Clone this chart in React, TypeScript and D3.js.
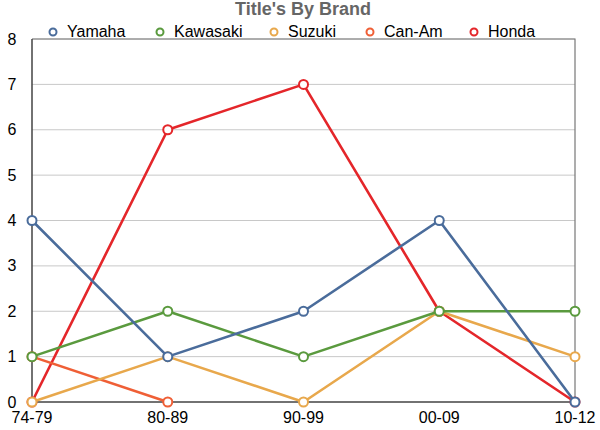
import React, { useRef, useEffect } from 'react';
import * as d3 from 'd3';

const categories = ['74-79', '80-89', '90-99', '00-09', '10-12'];
const seriesNames = ['Yamaha', 'Kawasaki', 'Suzuki', 'Can-Am', 'Honda'];
const yamaha = [4, 1, 2, 4, 0];
const kawasaki = [1, 2, 1, 2, 2];
const suzuki = [0, 1, 0, 2, 1];
const canAm = [1, 0];
const honda = [0, 6, 7, 2, 0];
const seriesColors = ['#4a6c9b', '#5a9a3e', '#e8a84c', '#ef5f36', '#e4262a'];
const yTicks = [0, 1, 2, 3, 4, 5, 6, 7, 8];
const legendX = [53, 160, 274, 370, 474];

const width = 600;
const height = 430;
const margin = { top: 39, right: 25, bottom: 28, left: 32 };

const App: React.FC = () => {
  const ref = useRef<SVGSVGElement | null>(null);

  useEffect(() => {
    if (!ref.current) return;
    const svg = d3.select<SVGSVGElement, unknown>(ref.current);
    svg.selectAll('*').remove();

    const font = '"Liberation Sans", Arial, sans-serif';
    const values = [yamaha, kawasaki, suzuki, canAm, honda];

    const x = d3
      .scalePoint<string>()
      .domain(categories)
      .range([margin.left, width - margin.right]);
    const y = d3
      .scaleLinear()
      .domain([0, 8])
      .range([height - margin.bottom, margin.top]);

    // gridlines
    svg
      .append('g')
      .selectAll('line')
      .data(yTicks.slice(1))
      .enter()
      .append('line')
      .attr('x1', margin.left)
      .attr('x2', width - margin.right)
      .attr('y1', d => y(d))
      .attr('y2', d => y(d))
      .attr('stroke', '#c8c8c8')
      .attr('stroke-width', 1);

    // frame
    const x0 = margin.left;
    const x1 = width - margin.right;
    const y0 = y(0);
    const y8 = y(8);
    svg
      .append('path')
      .attr('d', `M${x0},${y8}H${x1}V${y0}`)
      .attr('fill', 'none')
      .attr('stroke', '#777')
      .attr('stroke-width', 1.2);
    svg
      .append('path')
      .attr('d', `M${x0},${y8}V${y0}H${x1}`)
      .attr('fill', 'none')
      .attr('stroke', '#444')
      .attr('stroke-width', 1.5);

    // y labels
    svg
      .append('g')
      .selectAll('text')
      .data(yTicks)
      .enter()
      .append('text')
      .attr('x', 12)
      .attr('y', d => y(d))
      .attr('dy', '0.35em')
      .attr('text-anchor', 'middle')
      .style('font-family', font)
      .style('font-size', '16px')
      .style('fill', '#000')
      .text(d => d);

    // x labels
    svg
      .append('g')
      .selectAll('text')
      .data(categories)
      .enter()
      .append('text')
      .attr('x', d => x(d)!)
      .attr('y', y0 + 21)
      .attr('text-anchor', 'middle')
      .style('font-family', font)
      .style('font-size', '16px')
      .style('fill', '#000')
      .text(d => d);

    const line = d3
      .line<number>()
      .x((_, i) => x(categories[i])!)
      .y(d => y(d));

    // draw series in reverse order so Yamaha ends up on top
    for (let s = values.length - 1; s >= 0; s--) {
      const g = svg.append('g');
      g.append('path')
        .datum(values[s])
        .attr('d', line)
        .attr('fill', 'none')
        .attr('stroke', seriesColors[s])
        .attr('stroke-width', 2.6)
        .attr('stroke-linejoin', 'round');
      g.selectAll('circle')
        .data(values[s])
        .enter()
        .append('circle')
        .attr('cx', (_, i) => x(categories[i])!)
        .attr('cy', d => y(d))
        .attr('r', 4.5)
        .attr('fill', '#fff')
        .attr('stroke', seriesColors[s])
        .attr('stroke-width', 2);
    }

    // title
    svg
      .append('text')
      .attr('x', 303)
      .attr('y', 15)
      .attr('text-anchor', 'middle')
      .style('font-family', font)
      .style('font-size', '18px')
      .style('font-weight', 'bold')
      .style('fill', '#666')
      .text("Title's By Brand");

    // legend
    const legend = svg.append('g');
    seriesNames.forEach((name, i) => {
      legend
        .append('circle')
        .attr('cx', legendX[i])
        .attr('cy', 32)
        .attr('r', 3.5)
        .attr('fill', '#fff')
        .attr('stroke', seriesColors[i])
        .attr('stroke-width', 2);
      legend
        .append('text')
        .attr('x', legendX[i] + 14)
        .attr('y', 37)
        .style('font-family', font)
        .style('font-size', '16px')
        .style('fill', '#000')
        .text(name);
    });
  }, []);

  return (
    <svg
      ref={ref}
      width={width}
      height={height}
      style={{ position: 'absolute', left: 0, top: 0, background: '#fff' }}
    />
  );
};

export default App;
